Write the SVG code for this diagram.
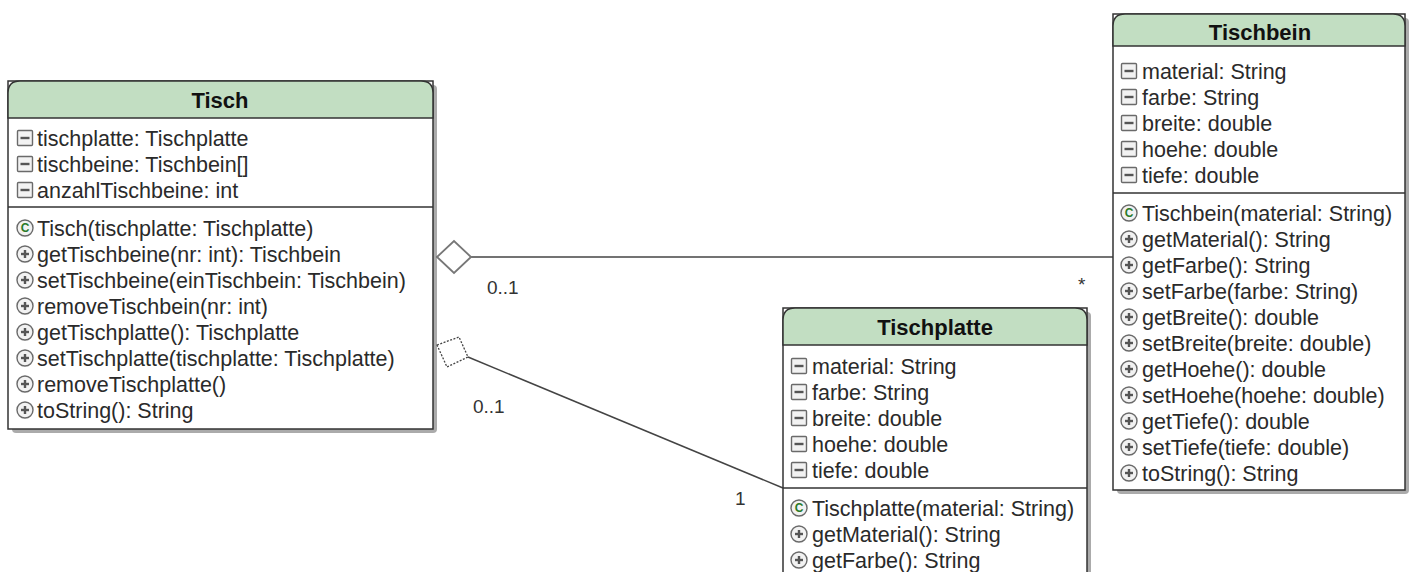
<svg xmlns="http://www.w3.org/2000/svg" width="1415" height="572" viewBox="0 0 1415 572">
<style>
.box{fill:#fff;stroke:#333;stroke-width:1.5}
.shadow{fill:#666;opacity:0.55}
.hdr{fill:#c2dec2;stroke:#333;stroke-width:1.5}
.sep{stroke:#333;stroke-width:1.5}
.title{font-family:"Liberation Sans",Arial,sans-serif;font-size:22px;font-weight:bold;fill:#111;text-anchor:middle}
.t{font-family:"Liberation Sans",Arial,sans-serif;font-size:21.5px;fill:#2a2a2a}
.lbl{font-family:"Liberation Sans",Arial,sans-serif;font-size:19px;fill:#333}
.ico{fill:#f2f2f2;stroke:#6a6a6a;stroke-width:1.4}
.icm{stroke:#555;stroke-width:2.4}
.icc{font-family:"Liberation Sans",Arial,sans-serif;font-size:12px;font-weight:bold;fill:#2a7a2a;text-anchor:middle}
.conn{fill:none;stroke:#444;stroke-width:1.5}
.dia{fill:#fff;stroke:#777;stroke-width:1.8}
</style>
<defs>
<g id="attr"><rect class="ico" x="-7.5" y="-7.5" width="15" height="15" rx="1"/><line class="icm" x1="-4.5" y1="0" x2="4.5" y2="0"/></g>
<g id="meth"><circle class="ico" cx="0" cy="0" r="8"/><line class="icm" x1="-4" y1="0" x2="4" y2="0"/><line class="icm" x1="0" y1="-4" x2="0" y2="4"/></g>
<g id="ctor"><circle class="ico" cx="0" cy="0" r="8"/><text class="icc" x="0" y="4.3">C</text></g>
</defs>

<g id="connectors">
<line class="conn" x1="471" y1="257" x2="1113" y2="257"/>
<polygon class="dia" points="437,257 454,241 471,257 454,273"/>
<line class="conn" x1="468" y1="357" x2="783" y2="488"/>
<polygon class="dia" points="437,345 459,337 468,357 447,367" style="stroke:#444;stroke-dasharray:2 1.5;stroke-width:1.3"/>
<text class="lbl" x="487" y="294">0..1</text>
<text class="lbl" x="1078" y="291">*</text>
<text class="lbl" x="473" y="413">0..1</text>
<text class="lbl" x="735" y="505">1</text>
</g>

<g id="Tisch">
<rect class="shadow" x="12" y="85" width="425" height="348" rx="4"/>
<rect class="box" x="8" y="81" width="425" height="348"/>
<path class="hdr" d="M8,118 V93 Q8,81 20,81 H421 Q433,81 433,93 V118 Z"/>
<text class="title" x="220" y="108">Tisch</text>
<line class="sep" x1="8" y1="207" x2="433" y2="207"/>
<use href="#attr" x="25" y="138"/><text class="t" x="37" y="145.5">tischplatte: Tischplatte</text>
<use href="#attr" x="25" y="164"/><text class="t" x="37" y="171.5">tischbeine: Tischbein[]</text>
<use href="#attr" x="25" y="190"/><text class="t" x="37" y="197.5">anzahlTischbeine: int</text>
<use href="#ctor" x="25" y="228"/><text class="t" x="37" y="235.5">Tisch(tischplatte: Tischplatte)</text>
<use href="#meth" x="25" y="254"/><text class="t" x="37" y="261.5">getTischbeine(nr: int): Tischbein</text>
<use href="#meth" x="25" y="280"/><text class="t" x="37" y="287.5">setTischbeine(einTischbein: Tischbein)</text>
<use href="#meth" x="25" y="306"/><text class="t" x="37" y="313.5">removeTischbein(nr: int)</text>
<use href="#meth" x="25" y="332"/><text class="t" x="37" y="339.5">getTischplatte(): Tischplatte</text>
<use href="#meth" x="25" y="358"/><text class="t" x="37" y="365.5">setTischplatte(tischplatte: Tischplatte)</text>
<use href="#meth" x="25" y="384"/><text class="t" x="37" y="391.5">removeTischplatte()</text>
<use href="#meth" x="25" y="410"/><text class="t" x="37" y="417.5">toString(): String</text>
</g>

<g id="Tischbein">
<rect class="shadow" x="1117" y="18" width="292" height="476" rx="4"/>
<rect class="box" x="1113" y="14" width="292" height="476"/>
<path class="hdr" d="M1113,46 V26 Q1113,14 1125,14 H1393 Q1405,14 1405,26 V46 Z"/>
<text class="title" x="1260" y="40">Tischbein</text>
<line class="sep" x1="1113" y1="193" x2="1405" y2="193"/>
<use href="#attr" x="1129" y="71"/><text class="t" x="1142" y="78.5">material: String</text>
<use href="#attr" x="1129" y="97"/><text class="t" x="1142" y="104.5">farbe: String</text>
<use href="#attr" x="1129" y="123"/><text class="t" x="1142" y="130.5">breite: double</text>
<use href="#attr" x="1129" y="149"/><text class="t" x="1142" y="156.5">hoehe: double</text>
<use href="#attr" x="1129" y="175"/><text class="t" x="1142" y="182.5">tiefe: double</text>
<use href="#ctor" x="1129" y="213"/><text class="t" x="1142" y="220.5">Tischbein(material: String)</text>
<use href="#meth" x="1129" y="239"/><text class="t" x="1142" y="246.5">getMaterial(): String</text>
<use href="#meth" x="1129" y="265"/><text class="t" x="1142" y="272.5">getFarbe(): String</text>
<use href="#meth" x="1129" y="291"/><text class="t" x="1142" y="298.5">setFarbe(farbe: String)</text>
<use href="#meth" x="1129" y="317"/><text class="t" x="1142" y="324.5">getBreite(): double</text>
<use href="#meth" x="1129" y="343"/><text class="t" x="1142" y="350.5">setBreite(breite: double)</text>
<use href="#meth" x="1129" y="369"/><text class="t" x="1142" y="376.5">getHoehe(): double</text>
<use href="#meth" x="1129" y="395"/><text class="t" x="1142" y="402.5">setHoehe(hoehe: double)</text>
<use href="#meth" x="1129" y="421"/><text class="t" x="1142" y="428.5">getTiefe(): double</text>
<use href="#meth" x="1129" y="447"/><text class="t" x="1142" y="454.5">setTiefe(tiefe: double)</text>
<use href="#meth" x="1129" y="473"/><text class="t" x="1142" y="480.5">toString(): String</text>
</g>

<g id="Tischplatte">
<rect class="shadow" x="787" y="312" width="304" height="280" rx="4"/>
<rect class="box" x="783" y="308" width="304" height="280"/>
<path class="hdr" d="M783,345 V320 Q783,308 795,308 H1075 Q1087,308 1087,320 V345 Z"/>
<text class="title" x="935" y="335">Tischplatte</text>
<line class="sep" x1="783" y1="488" x2="1087" y2="488"/>
<use href="#attr" x="799" y="366"/><text class="t" x="812" y="373.5">material: String</text>
<use href="#attr" x="799" y="392"/><text class="t" x="812" y="399.5">farbe: String</text>
<use href="#attr" x="799" y="418"/><text class="t" x="812" y="425.5">breite: double</text>
<use href="#attr" x="799" y="444"/><text class="t" x="812" y="451.5">hoehe: double</text>
<use href="#attr" x="799" y="470"/><text class="t" x="812" y="477.5">tiefe: double</text>
<use href="#ctor" x="799" y="508"/><text class="t" x="812" y="515.5">Tischplatte(material: String)</text>
<use href="#meth" x="799" y="534"/><text class="t" x="812" y="541.5">getMaterial(): String</text>
<use href="#meth" x="799" y="560"/><text class="t" x="812" y="567.5">getFarbe(): String</text>
</g>
</svg>
